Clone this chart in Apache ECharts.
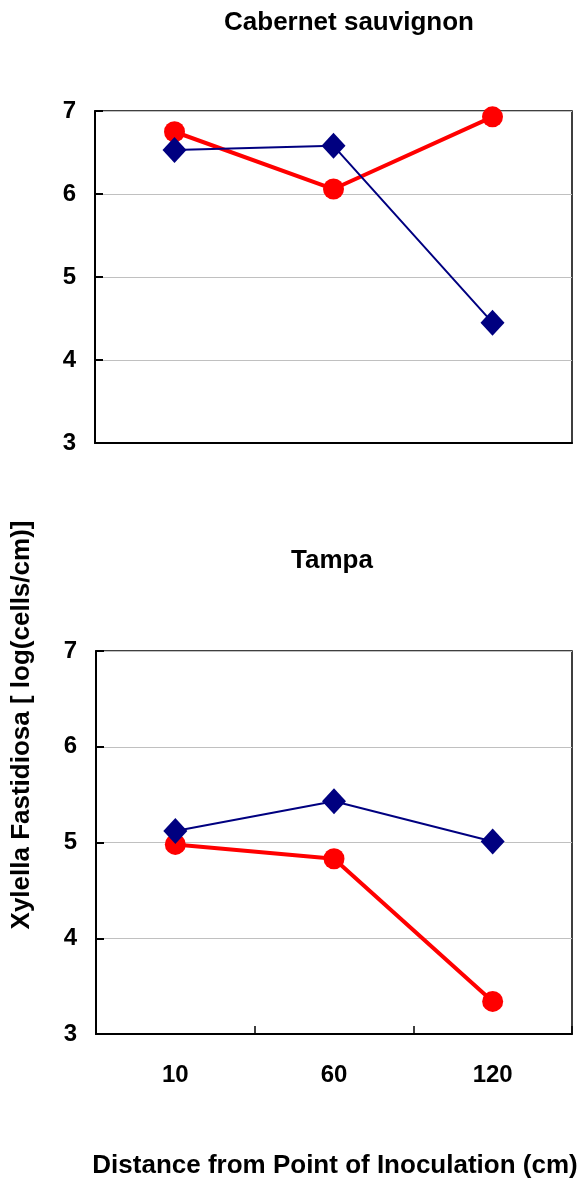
<!DOCTYPE html>
<html>
<head>
<meta charset="utf-8">
<script src="https://cdn.jsdelivr.net/npm/echarts@6/dist/echarts.min.js"></script>
<style>
html,body{margin:0;padding:0;background:#fff;}
#chart{width:584px;height:1188px;}
</style>
</head>
<body>
<div id="chart"></div>
<script>
const categories = ['10', '60', '120'];
const yTicks = [3, 4, 5, 6, 7];
const cabernetBlue = [6.53, 6.58, 4.45];
const cabernetRed = [6.75, 6.06, 6.93];
const tampaBlue = [5.12, 5.43, 5.01];
const tampaRed = [4.98, 4.83, 3.34];

const FONT = 'Liberation Sans, Arial, sans-serif';
const chart = echarts.init(document.getElementById('chart'), null, {renderer: 'canvas'});

function yAxisDef(gi) {
  return {
    type: 'value', gridIndex: gi, min: yTicks[0], max: yTicks[yTicks.length - 1], interval: 1,
    axisLine: {show: true, lineStyle: {color: '#000', width: 2}},
    axisTick: {show: true, inside: true, length: 8, lineStyle: {color: '#000', width: 2}},
    axisLabel: {color: '#000', fontSize: 24, fontWeight: 'bold', fontFamily: FONT, margin: 19},
    splitLine: {show: true, lineStyle: {color: '#c0c0c0', width: 1}}
  };
}

chart.setOption({
  animation: false,
  backgroundColor: '#fff',
  title: [
    {text: 'Cabernet sauvignon', left: 344, top: 5, textAlign: 'center',
     textStyle: {fontSize: 26, fontWeight: 'bold', fontFamily: FONT, color: '#000'}},
    {text: 'Tampa', left: 327, top: 543, textAlign: 'center',
     textStyle: {fontSize: 26, fontWeight: 'bold', fontFamily: FONT, color: '#000'}}
  ],
  graphic: [
    {type: 'text', x: 22, y: 725, rotation: Math.PI / 2,
     style: {text: 'Xylella Fastidiosa [ log(cells/cm)]', fill: '#000', font: 'bold 26px ' + FONT,
             textAlign: 'center', textVerticalAlign: 'middle'}},
    {type: 'text', x: 335, y: 1166,
     style: {text: 'Distance from Point of Inoculation (cm)', fill: '#000', font: 'bold 26px ' + FONT,
             textAlign: 'center', textVerticalAlign: 'middle'}}
  ],
  grid: [
    {left: 95, right: 12, top: 111, height: 332, show: true, borderColor: '#000', borderWidth: 1.5, backgroundColor: '#fff'},
    {left: 96, right: 12, top: 651, height: 383, show: true, borderColor: '#000', borderWidth: 1.5, backgroundColor: '#fff'}
  ],
  xAxis: [
    {type: 'category', gridIndex: 0, data: categories, boundaryGap: true,
     axisLine: {show: true, lineStyle: {color: '#000', width: 2}},
     axisTick: {show: false}, axisLabel: {show: false}, splitLine: {show: false}},
    {type: 'category', gridIndex: 1, data: categories, boundaryGap: true,
     axisLine: {show: true, lineStyle: {color: '#000', width: 2}},
     axisTick: {show: true, inside: true, length: 8, lineStyle: {color: '#000', width: 1.5}},
     axisLabel: {color: '#000', fontSize: 24, fontWeight: 'bold', fontFamily: FONT, margin: 29},
     splitLine: {show: false}}
  ],
  yAxis: [yAxisDef(0), yAxisDef(1)],
  series: [
    {type: 'line', xAxisIndex: 0, yAxisIndex: 0, data: cabernetBlue, symbol: 'diamond', symbolSize: [24, 26],
     lineStyle: {color: '#000080', width: 2}, itemStyle: {color: '#000080'}, z: 3},
    {type: 'line', xAxisIndex: 0, yAxisIndex: 0, data: cabernetRed, symbol: 'circle', symbolSize: 21,
     lineStyle: {color: '#ff0000', width: 4}, itemStyle: {color: '#ff0000'}, z: 2},
    {type: 'line', xAxisIndex: 1, yAxisIndex: 1, data: tampaBlue, symbol: 'diamond', symbolSize: [24, 26],
     lineStyle: {color: '#000080', width: 2}, itemStyle: {color: '#000080'}, z: 3},
    {type: 'line', xAxisIndex: 1, yAxisIndex: 1, data: tampaRed, symbol: 'circle', symbolSize: 21,
     lineStyle: {color: '#ff0000', width: 4}, itemStyle: {color: '#ff0000'}, z: 2}
  ]
});
</script>
</body>
</html>
